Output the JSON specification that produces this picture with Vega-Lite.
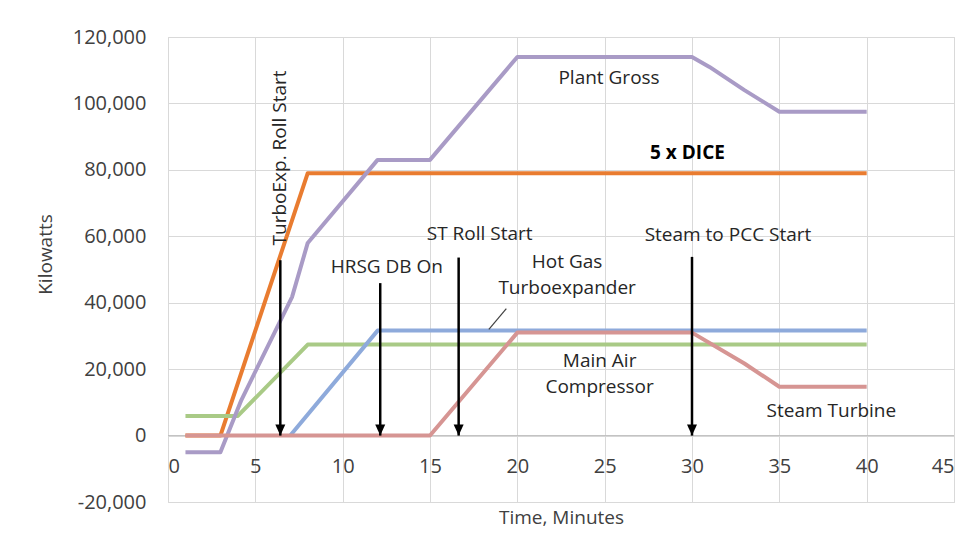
{
  "$schema": "https://vega.github.io/schema/vega-lite/v6.json",
  "width": 786,
  "height": 465,
  "autosize": "none",
  "padding": {"left": 168, "top": 37, "right": 22, "bottom": 50},
  "background": "white",
  "config": {
    "font": "Open Sans",
    "view": {"stroke": "#d9d9d9", "strokeWidth": 1},
    "axis": {
      "gridColor": "#d9d9d9",
      "gridWidth": 1,
      "domain": false,
      "ticks": false,
      "labelFont": "Open Sans",
      "labelFontSize": 20,
      "labelColor": "#404040",
      "titleFont": "Open Sans",
      "titleFontSize": 19,
      "titleFontWeight": "normal",
      "titleColor": "#404040"
    }
  },
  "datasets": {
    "series": [
      {"series": "5 x DICE", "x": 1, "y": 0},
      {"series": "5 x DICE", "x": 3, "y": 0},
      {"series": "5 x DICE", "x": 8, "y": 79000},
      {"series": "5 x DICE", "x": 40, "y": 79000},
      {"series": "Main Air Compressor", "x": 1, "y": 5900},
      {"series": "Main Air Compressor", "x": 4, "y": 5900},
      {"series": "Main Air Compressor", "x": 8, "y": 27400},
      {"series": "Main Air Compressor", "x": 40, "y": 27400},
      {"series": "Hot Gas Turboexpander", "x": 7, "y": 0},
      {"series": "Hot Gas Turboexpander", "x": 12, "y": 31600},
      {"series": "Hot Gas Turboexpander", "x": 40, "y": 31600},
      {"series": "Plant Gross", "x": 1, "y": -5000},
      {"series": "Plant Gross", "x": 3, "y": -5000},
      {"series": "Plant Gross", "x": 4.2, "y": 10700},
      {"series": "Plant Gross", "x": 7.1, "y": 41700},
      {"series": "Plant Gross", "x": 8, "y": 58000},
      {"series": "Plant Gross", "x": 12, "y": 83000},
      {"series": "Plant Gross", "x": 15, "y": 83000},
      {"series": "Plant Gross", "x": 20, "y": 114000},
      {"series": "Plant Gross", "x": 30, "y": 114000},
      {"series": "Plant Gross", "x": 31, "y": 111000},
      {"series": "Plant Gross", "x": 33, "y": 104000},
      {"series": "Plant Gross", "x": 35, "y": 97500},
      {"series": "Plant Gross", "x": 40, "y": 97500},
      {"series": "Steam Turbine", "x": 1, "y": 0},
      {"series": "Steam Turbine", "x": 15, "y": 0},
      {"series": "Steam Turbine", "x": 20, "y": 31000},
      {"series": "Steam Turbine", "x": 30, "y": 31000},
      {"series": "Steam Turbine", "x": 33, "y": 21700},
      {"series": "Steam Turbine", "x": 35, "y": 14700},
      {"series": "Steam Turbine", "x": 40, "y": 14700}
    ],
    "zeroline": [{"x": 0, "x2": 45, "y": 0}],
    "arrows": [
      {"x": 6.43, "y": 0, "y2": 52800},
      {"x": 12.15, "y": 0, "y2": 45900},
      {"x": 16.64, "y": 0, "y2": 53600},
      {"x": 30.0, "y": 0, "y2": 53800}
    ],
    "leader": [{"x": 18.37, "y": 32000, "x2": 19.37, "y2": 38200}],
    "labels": [
      {"x": 12.53, "y": 50800, "label": "HRSG DB On"},
      {"x": 17.84, "y": 60800, "label": "ST Roll Start"},
      {"x": 32.06, "y": 60300, "label": "Steam to PCC Start"},
      {"x": 25.25, "y": 107600, "label": "Plant Gross"},
      {"x": 22.85, "y": 52400, "label": "Hot Gas\nTurboexpander"},
      {"x": 24.71, "y": 22400, "label": "Main Air\nCompressor"},
      {"x": 37.98, "y": 7460, "label": "Steam Turbine"}
    ],
    "boldlabels": [{"x": 29.74, "y": 85050, "label": "5 x DICE"}],
    "rotlabels": [{"x": 6.44, "y": 83600, "label": "TurboExp. Roll Start"}]
  },
  "encoding": {
    "x": {
      "field": "x",
      "type": "quantitative",
      "scale": {"domain": [0, 45], "nice": false, "zero": false},
      "axis": {
        "title": "Time, Minutes",
        "values": [0, 5, 10, 15, 20, 25, 30, 35, 40, 45],
        "offset": -66.4,
        "labelPadding": 21,
        "titlePadding": 32,
        "grid": true
      }
    },
    "y": {
      "field": "y",
      "type": "quantitative",
      "scale": {"domain": [-20000, 120000], "nice": false, "zero": false},
      "axis": {
        "title": "Kilowatts",
        "values": [-20000, 0, 20000, 40000, 60000, 80000, 100000, 120000],
        "format": ",d",
        "labelExpr": "replace(datum.label, '\u2212', '-')",
        "labelPadding": 22,
        "titleX": -123,
        "titleY": 217,
        "titleBaseline": "middle",
        "grid": true
      }
    }
  },
  "layer": [
    {
      "data": {"name": "zeroline"},
      "mark": {"type": "rule", "color": "#bfbfbf", "strokeWidth": 1},
      "encoding": {"x2": {"field": "x2"}}
    },
    {
      "data": {"name": "series"},
      "mark": {"type": "line", "strokeWidth": 4, "strokeJoin": "round"},
      "encoding": {
        "color": {
          "field": "series",
          "type": "nominal",
          "sort": null,
          "scale": {
            "domain": ["5 x DICE", "Main Air Compressor", "Hot Gas Turboexpander", "Plant Gross", "Steam Turbine"],
            "range": ["#E97C30", "#A9CA86", "#8EAADB", "#A99BC6", "#D69593"]
          },
          "legend": null
        },
        "order": {"field": "x", "type": "quantitative"}
      }
    },
    {
      "data": {"name": "leader"},
      "mark": {"type": "rule", "color": "#404040", "strokeWidth": 1.2},
      "encoding": {"x2": {"field": "x2"}, "y2": {"field": "y2"}}
    },
    {
      "data": {"name": "arrows"},
      "mark": {"type": "rule", "color": "black", "strokeWidth": 2.5},
      "encoding": {"y2": {"field": "y2"}}
    },
    {
      "data": {"name": "arrows"},
      "mark": {"type": "point", "filled": true, "color": "black", "opacity": 1, "size": 100, "shape": "M-1,-2.2L1,-2.2L0,0Z", "strokeWidth": 0}
    },
    {
      "data": {"name": "labels"},
      "mark": {"type": "text", "font": "Open Sans", "fontSize": 19, "color": "#262626", "align": "center", "baseline": "middle", "lineBreak": "\n", "lineHeight": 26},
      "encoding": {"text": {"field": "label"}}
    },
    {
      "data": {"name": "boldlabels"},
      "mark": {"type": "text", "font": "Open Sans", "fontSize": 19, "fontWeight": "bold", "color": "#000000", "align": "center", "baseline": "middle"},
      "encoding": {"text": {"field": "label"}}
    },
    {
      "data": {"name": "rotlabels"},
      "mark": {"type": "text", "font": "Open Sans", "fontSize": 19, "angle": 270, "color": "#262626", "align": "center", "baseline": "middle"},
      "encoding": {"text": {"field": "label"}}
    }
  ]
}
